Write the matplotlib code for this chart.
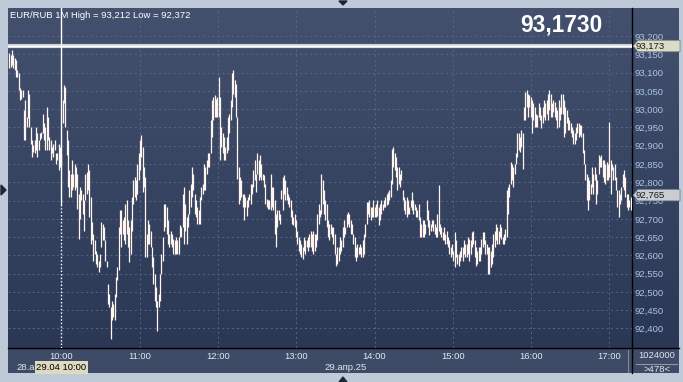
import numpy as np
import matplotlib.pyplot as plt
from matplotlib.patches import Rectangle, Polygon
import matplotlib.transforms as mtransforms

plt.rcParams['font.family'] = ['Liberation Sans', 'DejaVu Sans']

# 1-minute bars EUR/RUB, high / low from left to right
bar_high = [
    # 9:21 - 10:40
    93.153, 93.148, 93.162, 93.148, 93.139, 93.134, 93.107, 93.098, 93.057, 93.052,
    93.052, 92.998, 93.025, 92.979, 93.052, 93.043, 92.952, 92.915, 92.901, 92.915,
    92.952, 92.934, 92.915, 92.934, 92.938, 92.988, 92.961, 92.952, 93.007, 92.979,
    92.925, 92.915, 92.897, 92.906, 92.915, 92.879, 92.879, 92.906, 92.897, 92.879,
    93.025, 93.066, 93.061, 92.943, 92.915, 92.833, 92.824, 92.860, 92.824, 92.851,
    92.842, 92.824, 92.769, 92.787, 92.778, 92.769, 92.751, 92.824, 92.828, 92.851,
    92.833, 92.760, 92.691, 92.659, 92.641, 92.613, 92.604, 92.586, 92.604, 92.691,
    92.687, 92.677, 92.641, 92.586, 92.522, 92.495, 92.458, 92.476, 92.467,
    # 10:40 - 12:00
    92.495, 92.541, 92.568, 92.677, 92.723, 92.723, 92.696, 92.705, 92.741, 92.751,
    92.696, 92.677, 92.696, 92.760, 92.805, 92.815, 92.805, 92.851, 92.879, 92.915,
    92.929, 92.897, 92.842, 92.815, 92.659, 92.696, 92.687, 92.668, 92.623, 92.595,
    92.550, 92.513, 92.476, 92.495, 92.550, 92.604, 92.650, 92.741, 92.741, 92.732,
    92.696, 92.659, 92.668, 92.659, 92.645, 92.641, 92.650, 92.641, 92.650, 92.682,
    92.677, 92.769, 92.787, 92.741, 92.705, 92.714, 92.778, 92.796, 92.842, 92.824,
    92.769, 92.751, 92.732, 92.723, 92.760, 92.787, 92.796, 92.851, 92.842, 92.860,
    92.879, 92.879, 92.970, 93.025, 93.034, 93.038, 93.029, 93.034,
    # 12:00 - 13:20
    93.089, 93.034, 92.952, 92.934, 92.925, 92.897, 92.925, 92.979, 92.988, 93.025,
    93.098, 93.107, 93.080, 93.070, 92.979, 92.842, 92.815, 92.805, 92.769, 92.769,
    92.760, 92.751, 92.760, 92.769, 92.796, 92.796, 92.833, 92.860, 92.824, 92.879,
    92.860, 92.874, 92.851, 92.824, 92.819, 92.796, 92.755, 92.751, 92.751, 92.824,
    92.787, 92.787, 92.751, 92.714, 92.723, 92.723, 92.714, 92.778, 92.815, 92.819,
    92.805, 92.787, 92.769, 92.760, 92.751, 92.723, 92.705, 92.714, 92.696, 92.668,
    92.650, 92.641, 92.632, 92.623, 92.650, 92.641, 92.641, 92.650, 92.659, 92.668,
    92.659, 92.668, 92.659, 92.659, 92.714, 92.741, 92.723, 92.824,
    # 13:20 - 14:40
    92.805, 92.778, 92.751, 92.741, 92.696, 92.687, 92.687, 92.677, 92.677, 92.659,
    92.604, 92.623, 92.623, 92.650, 92.641, 92.677, 92.696, 92.677, 92.714, 92.719,
    92.714, 92.696, 92.687, 92.659, 92.650, 92.623, 92.632, 92.623, 92.632, 92.623,
    92.641, 92.659, 92.687, 92.746, 92.746, 92.751, 92.732, 92.732, 92.751, 92.732,
    92.741, 92.751, 92.732, 92.741, 92.751, 92.741, 92.751, 92.760, 92.769, 92.773,
    92.778, 92.805, 92.892, 92.897, 92.879, 92.869, 92.842, 92.842, 92.824, 92.833,
    92.778, 92.760, 92.751, 92.760, 92.751, 92.732, 92.751, 92.773, 92.751, 92.741,
    92.732, 92.723, 92.741, 92.705, 92.687, 92.696, 92.696, 92.687,
    # 14:40 - 16:00
    92.751, 92.723, 92.696, 92.687, 92.696, 92.696, 92.687, 92.677, 92.714, 92.792,
    92.687, 92.677, 92.664, 92.677, 92.659, 92.668, 92.650, 92.641, 92.623, 92.632,
    92.613, 92.664, 92.641, 92.604, 92.604, 92.613, 92.623, 92.623, 92.641, 92.632,
    92.632, 92.650, 92.645, 92.641, 92.664, 92.668, 92.641, 92.623, 92.613, 92.623,
    92.623, 92.645, 92.664, 92.664, 92.641, 92.632, 92.623, 92.623, 92.613, 92.632,
    92.659, 92.668, 92.687, 92.677, 92.668, 92.687, 92.677, 92.650, 92.659, 92.673,
    92.778, 92.787, 92.796, 92.856, 92.851, 92.842, 92.851, 92.879, 92.934, 92.934,
    92.925, 92.943, 92.934, 93.007, 93.048, 93.052, 93.043, 93.038,
    # 16:00 - 17:15
    93.034, 93.025, 93.016, 93.007, 92.988, 92.984, 93.016, 93.007, 92.984, 93.007,
    93.025, 93.016, 93.025, 93.043, 93.052, 93.043, 93.016, 93.025, 93.020, 93.007,
    92.998, 93.025, 93.007, 93.043, 93.043, 93.025, 93.007, 92.998, 92.979, 92.970,
    92.961, 92.952, 92.943, 92.934, 92.952, 92.961, 92.961, 92.957, 92.957, 92.934,
    92.888, 92.851, 92.824, 92.815, 92.805, 92.796, 92.842, 92.824, 92.842, 92.824,
    92.805, 92.874, 92.869, 92.874, 92.860, 92.860, 92.851, 92.856, 92.851, 92.966,
    92.860, 92.851, 92.842, 92.851, 92.815, 92.778, 92.778, 92.769, 92.787, 92.824,
    92.833, 92.815, 92.769, 92.769, 92.751, 92.760,
]

bar_low = [
    # 9:21 - 10:40
    93.112, 93.116, 93.121, 93.112, 93.107, 93.089, 93.089, 93.052, 93.025, 93.029,
    93.034, 92.915, 92.915, 92.952, 92.975, 92.952, 92.906, 92.869, 92.883, 92.879,
    92.888, 92.869, 92.888, 92.915, 92.920, 92.934, 92.915, 92.888, 92.888, 92.915,
    92.888, 92.860, 92.879, 92.869, 92.888, 92.851, 92.860, 92.833, 92.842, 92.851,
    92.961, 93.016, 92.952, 92.874, 92.787, 92.760, 92.760, 92.778, 92.787, 92.778,
    92.787, 92.728, 92.645, 92.700, 92.751, 92.714, 92.668, 92.751, 92.769, 92.778,
    92.705, 92.632, 92.641, 92.586, 92.604, 92.577, 92.568, 92.554, 92.568, 92.623,
    92.641, 92.641, 92.586, 92.568, 92.467, 92.458, 92.372, 92.422, 92.431,
    # 10:40 - 12:00
    92.422, 92.486, 92.532, 92.559, 92.659, 92.623, 92.659, 92.641, 92.632, 92.659,
    92.623, 92.581, 92.604, 92.668, 92.741, 92.760, 92.751, 92.769, 92.805, 92.833,
    92.869, 92.773, 92.787, 92.595, 92.595, 92.632, 92.632, 92.623, 92.568, 92.522,
    92.476, 92.458, 92.394, 92.458, 92.476, 92.550, 92.586, 92.668, 92.677, 92.659,
    92.632, 92.623, 92.632, 92.623, 92.604, 92.604, 92.604, 92.604, 92.604, 92.650,
    92.650, 92.677, 92.632, 92.668, 92.632, 92.677, 92.714, 92.732, 92.760, 92.778,
    92.714, 92.705, 92.687, 92.687, 92.687, 92.751, 92.769, 92.778, 92.778, 92.824,
    92.842, 92.842, 92.879, 92.925, 92.970, 92.979, 92.979, 92.979,
    # 12:00 - 13:20
    92.979, 92.860, 92.897, 92.879, 92.860, 92.860, 92.879, 92.888, 92.934, 92.970,
    93.007, 93.043, 93.034, 92.979, 92.810, 92.741, 92.751, 92.760, 92.732, 92.696,
    92.732, 92.709, 92.732, 92.751, 92.741, 92.769, 92.787, 92.805, 92.773, 92.824,
    92.805, 92.815, 92.805, 92.805, 92.787, 92.741, 92.732, 92.728, 92.728, 92.723,
    92.732, 92.723, 92.659, 92.623, 92.677, 92.696, 92.687, 92.755, 92.723, 92.769,
    92.751, 92.751, 92.741, 92.732, 92.705, 92.687, 92.682, 92.677, 92.650, 92.632,
    92.613, 92.604, 92.595, 92.591, 92.613, 92.604, 92.623, 92.613, 92.623, 92.623,
    92.613, 92.604, 92.613, 92.623, 92.641, 92.687, 92.705, 92.714,
    # 13:20 - 14:40
    92.741, 92.714, 92.696, 92.677, 92.650, 92.641, 92.659, 92.650, 92.632, 92.604,
    92.572, 92.577, 92.586, 92.604, 92.613, 92.623, 92.650, 92.659, 92.677, 92.687,
    92.677, 92.659, 92.659, 92.632, 92.595, 92.586, 92.595, 92.604, 92.604, 92.595,
    92.595, 92.604, 92.650, 92.687, 92.714, 92.705, 92.696, 92.705, 92.705, 92.705,
    92.705, 92.709, 92.682, 92.696, 92.714, 92.723, 92.732, 92.732, 92.737, 92.741,
    92.751, 92.760, 92.796, 92.842, 92.833, 92.815, 92.778, 92.796, 92.787, 92.805,
    92.751, 92.723, 92.714, 92.705, 92.714, 92.714, 92.732, 92.723, 92.714, 92.723,
    92.705, 92.705, 92.696, 92.650, 92.650, 92.650, 92.650, 92.659,
    # 14:40 - 16:00
    92.696, 92.677, 92.655, 92.668, 92.677, 92.668, 92.659, 92.650, 92.650, 92.668,
    92.659, 92.650, 92.641, 92.641, 92.632, 92.632, 92.623, 92.604, 92.595, 92.604,
    92.586, 92.568, 92.595, 92.577, 92.572, 92.586, 92.595, 92.586, 92.604, 92.595,
    92.595, 92.604, 92.586, 92.604, 92.623, 92.632, 92.595, 92.572, 92.577, 92.586,
    92.586, 92.604, 92.623, 92.632, 92.604, 92.604, 92.550, 92.550, 92.568, 92.577,
    92.595, 92.623, 92.641, 92.632, 92.632, 92.650, 92.645, 92.632, 92.632, 92.641,
    92.650, 92.714, 92.760, 92.796, 92.805, 92.787, 92.824, 92.851, 92.869, 92.888,
    92.883, 92.897, 92.837, 92.970, 92.970, 93.007, 92.979, 93.007,
    # 16:00 - 17:15
    92.979, 92.934, 92.970, 92.952, 92.952, 92.952, 92.979, 92.970, 92.948, 92.961,
    92.979, 92.970, 92.988, 92.970, 92.998, 92.979, 92.979, 92.993, 92.979, 92.970,
    92.948, 92.952, 92.970, 92.988, 92.988, 92.925, 92.934, 92.961, 92.943, 92.943,
    92.934, 92.925, 92.906, 92.906, 92.915, 92.934, 92.925, 92.929, 92.925, 92.879,
    92.851, 92.805, 92.751, 92.723, 92.751, 92.769, 92.787, 92.769, 92.805, 92.741,
    92.769, 92.824, 92.842, 92.842, 92.815, 92.801, 92.796, 92.805, 92.805, 92.815,
    92.769, 92.833, 92.805, 92.805, 92.778, 92.732, 92.705, 92.741, 92.751, 92.787,
    92.778, 92.760, 92.732, 92.723, 92.732, 92.723,
]

hours = [10, 11, 12, 13, 14, 15, 16, 17]
price_ticks = [92.40, 92.45, 92.50, 92.55, 92.60, 92.65, 92.70, 92.75, 92.80,
               92.85, 92.90, 92.95, 93.00, 93.05, 93.10, 93.15, 93.20]
bid_line = 93.173
last_price = 92.765
bar_count = 478
cursor_low = 92.737

# bar spacing in minutes, bar 39 falls on 10:00
step = 1.0215
t0 = 600 - 39 * step
times = t0 + np.arange(len(bar_high)) * step

W, H = 683, 382
fig = plt.figure(figsize=(W / 100, H / 100), dpi=100)
fig.patch.set_facecolor('#bfcad9')

# decoration layer in pixel coordinates
bg = fig.add_axes([0, 0, 1, 1])
bg.set_xlim(0, W)
bg.set_ylim(H, 0)
bg.axis('off')
grad = np.linspace(0, 1, 256)[:, None, None]
top_c = np.array([0x43, 0x51, 0x6e]) / 255
bot_c = np.array([0x2b, 0x38, 0x55]) / 255
img = top_c * (1 - grad) + bot_c * grad
bg.imshow(img, extent=(8, 679, 348, 8), aspect='auto', zorder=0)
bg.add_patch(Rectangle((8, 348), 671, 25, facecolor='#3d4b66', edgecolor='none', zorder=1))
bg.plot([632, 632], [8, 373], color='black', lw=1, zorder=3)
bg.plot([8, 679], [348, 348], color='black', lw=1, zorder=3)
bg.plot([628, 628], [350, 372], color='#7c889c', lw=0.8, zorder=3)
bg.plot([636, 677], [363.5, 363.5], color='#8a96aa', lw=0.8, zorder=3)
bg.add_patch(Polygon([(339, 1), (347, 1), (343, 5)], color='#1c2638', zorder=3))
bg.add_patch(Polygon([(339, 382), (347, 382), (343, 377)], color='#1c2638', zorder=3))
bg.add_patch(Polygon([(1, 185), (6, 190), (1, 195)], color='#1c2638', zorder=3))
bg.text(657, 356, str(1024000), color='#dfe5ee', fontsize=6.8, ha='center', va='center', zorder=4)
bg.text(657, 370, '>%d<' % bar_count, color='#dfe5ee', fontsize=6.8, ha='center', va='center', zorder=4)
bg.text(16, 367, '28.a', color='#dfe5ee', fontsize=6.8, ha='left', va='center', zorder=4)
bg.add_patch(Rectangle((35, 361), 53, 12.5, facecolor='#dedabf', edgecolor='none', zorder=5))
bg.text(61.5, 367, '29.04 10:00', color='black', fontsize=6.8, ha='center', va='center', zorder=6)
bg.text(346, 367, '29.апр.25', color='#dfe5ee', fontsize=6.8, ha='center', va='center', zorder=4)

# price panel
ax = fig.add_axes([8 / W, 1 - 348 / H, 624 / W, 340 / H])
ax.set_facecolor('none')
ax.set_zorder(2)
ax.set_xlim(559.16, 1037.3)
ax.set_ylim(92.3466, 93.277)

ax.vlines(times, bar_low, bar_high, colors='#fff4ee', lw=0.9, zorder=3)

ax.set_xticks([h * 60 for h in hours])
ax.set_xticklabels(['%d:00' % h for h in hours])
ax.yaxis.tick_right()
ax.set_yticks(price_ticks)
ax.set_yticklabels([('%.3f' % p).replace('.', ',') for p in price_ticks])
ax.tick_params(axis='x', length=0, pad=3, labelsize=6.8, labelcolor='#e4e9f1')
ax.tick_params(axis='y', length=0, pad=2, labelsize=6.8, labelcolor='#a9c4e8')
ax.grid(True, color='#56668a', lw=0.7, linestyle=(0, (2, 3)))
for s in ax.spines.values():
    s.set_visible(False)

# bid line and cursor
ax.axhline(bid_line, color='#cfd4dc', lw=3.0, zorder=4)
ax.axhline(bid_line, color='white', lw=1.0, zorder=4)
ax.plot([600, 600], [cursor_low, 93.277], color='white', lw=1.0, zorder=4)
ax.plot([600, 600], [92.3466, cursor_low], color='white', lw=1.0,
        linestyle=(0, (1, 1.5)), zorder=4)

# price tags on the right scale
trans = mtransforms.blended_transform_factory(ax.transAxes, ax.transData)
def price_tag(p, face):
    h = 5.8 / 366
    x0, x1, x2 = 1.0016, 1.0096, 1.077
    ax.add_patch(Polygon([(x0, p), (x1, p + h), (x2, p + h), (x2, p - h), (x1, p - h)],
                         closed=True, transform=trans, facecolor=face,
                         edgecolor='#6b7380', lw=0.5, clip_on=False, zorder=6))
    ax.text(1.006, p, ('%.3f' % p).replace('.', ','), transform=trans, color='#1a1a1a',
            fontsize=6.8, ha='left', va='center', clip_on=False, zorder=7)

price_tag(bid_line, '#dadcc6')
price_tag(last_price, '#c9cdd3')

ax.text(0.003, 0.979, 'EUR/RUB 1M High = 93,212 Low = 92,372', transform=ax.transAxes,
        color='white', fontsize=6.8, ha='left', va='center', zorder=5)
ax.text(0.886, 0.95, ('%.4f' % bid_line).replace('.', ','), transform=ax.transAxes,
        color='white', fontsize=16.3, fontweight='bold', ha='center', va='center', zorder=5)

fig.savefig('out.png', dpi=100, facecolor=fig.get_facecolor())
